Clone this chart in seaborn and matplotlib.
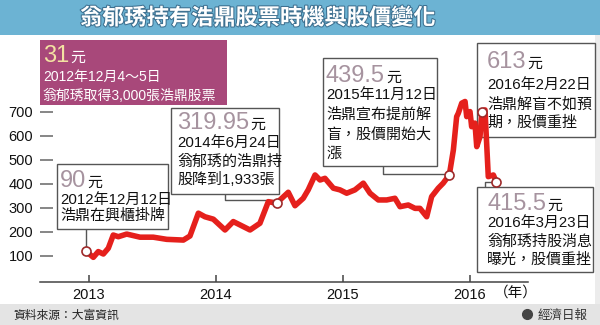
import numpy as np
import pandas as pd
import matplotlib
matplotlib.use("Agg")
import matplotlib.pyplot as plt
import seaborn as sns
from matplotlib.patches import Rectangle
from matplotlib.lines import Line2D
import matplotlib.patheffects as pe

sns.set_theme(style="white")
plt.rcParams['font.family'] = ['Liberation Sans', 'Noto Sans CJK TC', 'DejaVu Sans']

# ---------------- data ----------------
years = [2012.974, 2013.034, 2013.073, 2013.113, 2013.152, 2013.191, 2013.231, 2013.297,
         2013.402, 2013.506, 2013.612, 2013.743, 2013.795, 2013.861, 2013.913, 2013.979,
         2014.071, 2014.136, 2014.189, 2014.268, 2014.346, 2014.412, 2014.478, 2014.504,
         2014.569, 2014.622, 2014.687, 2014.726, 2014.780, 2014.819, 2014.858, 2014.924,
         2014.976, 2015.029, 2015.094, 2015.160, 2015.213, 2015.278, 2015.344, 2015.409,
         2015.449, 2015.514, 2015.567, 2015.606, 2015.659, 2015.698, 2015.750, 2015.789,
         2015.837, 2015.869, 2015.895, 2015.908, 2015.935, 2015.961, 2015.974, 2016.000,
         2016.013, 2016.039, 2016.053, 2016.079, 2016.093, 2016.118, 2016.144, 2016.184,
         2016.206]
price = [120, 93, 117, 107, 131, 186, 179, 190,
         177, 177, 168, 165, 182, 277, 262, 252,
         207, 242, 228, 207, 235, 325, 318, 332,
         364, 308, 339, 374, 436, 415, 422, 381,
         374, 360, 374, 402, 360, 332, 332, 339,
         304, 311, 297, 297, 262, 346, 381, 402,
         436, 540, 679, 693, 735, 742, 679, 700,
         637, 652, 554, 596, 700, 707, 429, 436,
         408]
event_years = [2012.974, 2014.478, 2015.837, 2016.093, 2016.206]
event_price = [120, 318, 436, 700, 408]

year_ticks = [2013, 2014, 2015, 2016]
y_ticks = [100, 200, 300, 400, 500, 600, 700]

title = "翁郁琇持有浩鼎股票時機與股價變化"
source = "資料來源：大富資訊"
brand = "經濟日報"
unit_x = "（年）"

df = pd.DataFrame({"year": years, "price": price})

# ---------------- figure ----------------
W, H = 600, 325
fig = plt.figure(figsize=(6, 3.25), dpi=100)
fig.patch.set_facecolor("white")

def fx(x):
    return x / W

def fy(y):
    return 1 - y / H

# title bar
fig.add_artist(Rectangle((0, fy(35)), 1, 35 / H, transform=fig.transFigure,
                         facecolor="#6cb3d3", edgecolor="none", zorder=0))
fig.text(fx(258), fy(18), title, color="white", fontsize=16, fontweight="bold",
         ha="center", va="center", family=['Noto Sans CJK TC'],
         path_effects=[pe.withStroke(linewidth=1.5, foreground="#3d7090")])

# bottom bar
fig.add_artist(Rectangle((0, 0), 1, 21 / H, transform=fig.transFigure,
                         facecolor="#e4e4e4", edgecolor="none", zorder=0))
fig.text(fx(13), fy(315), source, fontsize=8.5, color="#222222", ha="left", va="center",
         family=['Noto Sans CJK TC'])
fig.text(fx(588), fy(315), brand, fontsize=9, color="#333333", ha="right", va="center",
         family=['Noto Sans CJK TC'])
fig.add_artist(Line2D([fx(527)], [fy(314)], marker="o", markersize=7, color="#444444",
                      transform=fig.transFigure))
# right edge strip
fig.add_artist(Rectangle((fx(595), 21 / H), 5 / W, (H - 21 - 35) / H, transform=fig.transFigure,
                         facecolor="#ececec", edgecolor="none", zorder=0))

# axes (drawn above the annotation boxes)
ax = fig.add_axes([fx(40), 1 - 282 / H, 488 / W, (282 - 40) / H])
ax.set_facecolor("none")
ax.set_zorder(3)
sns.lineplot(data=df, x="year", y="price", ax=ax, color="#e5201c", linewidth=4.0,
             zorder=5, solid_joinstyle="round")
ax.plot(event_years, event_price, linestyle="none", marker="o", markersize=6.5,
        markerfacecolor="white", markeredgecolor="#9e2a2a", markeredgewidth=1.2, zorder=6)

x0 = 2013 - 49 / 127
x1 = 2016 + 58 / 127
ax.set_xlim(x0, x1)
ax.set_ylim(-9.6, 998)
ax.set_xticks(year_ticks)
ax.set_xticklabels([str(t) for t in year_ticks])
ax.set_yticks(y_ticks)
ax.set_yticklabels([str(t) for t in y_ticks])
ax.set_xlabel("")
ax.set_ylabel("")
for s in ["left", "top", "right"]:
    ax.spines[s].set_visible(False)
ax.spines["bottom"].set_color("#444444")
ax.spines["bottom"].set_linewidth(1.1)
ax.tick_params(axis="y", direction="in", length=9.5, width=1.1, color="#666666",
               pad=5, labelsize=10.5, labelcolor="#111111", left=True)
ax.tick_params(axis="x", direction="in", length=5, width=1.1, color="#444444",
               pad=4, labelsize=10.5, labelcolor="#111111", bottom=True)
fig.text(fx(516), fy(293), unit_x, fontsize=10.5, ha="center", va="center", color="#111111",
         family=['Noto Sans CJK TC'])

# helpers
def data_px(x, y):
    fig.canvas.draw()
    dx, dy = ax.transData.transform((x, y))
    return dx, H - dy

def box(x0_, y0_, x1_, y1_, face="white", edge="#555555", z=2):
    fig.add_artist(Rectangle((fx(x0_), fy(y1_)), (x1_ - x0_) / W, (y1_ - y0_) / H,
                             transform=fig.transFigure, facecolor=face, edgecolor=edge,
                             linewidth=1.0, zorder=z))

def conn(points):
    xs = [fx(p[0]) for p in points]
    ys = [fy(p[1]) for p in points]
    fig.add_artist(Line2D(xs, ys, color="#555555", linewidth=1.0, transform=fig.transFigure,
                          zorder=1))

BIG = "#a6939f"
TXT = "#111111"

def big_num(x, y, num, unit, color=BIG, ucolor=TXT):
    t = fig.text(fx(x), fy(y), num, fontsize=17, color=color, ha="left", va="baseline",
                 family=['Liberation Sans'], zorder=2.5)
    fig.canvas.draw()
    bb = t.get_window_extent()
    fig.text(bb.x1 / W + 1 / W, fy(y), unit, fontsize=10.8, color=ucolor, ha="left",
             va="baseline", family=['Noto Sans CJK TC'], zorder=2.5)

def lines(x, ys, texts, color=TXT, size=10.8):
    for yy, tt in zip(ys, texts):
        fig.text(fx(x), fy(yy), tt, fontsize=size, color=color, ha="left", va="center",
                 zorder=2.5)

# box 1 (magenta)
box(40, 40, 227, 105, face="#a8487a", edge="none", z=2)
big_num(43, 62, "31", "元", color="#f3e2a2", ucolor="white")
lines(43, [77, 96], ["2012年12月4～5日", "翁郁琇取得3,000張浩鼎股票"], color="white", size=10.0)

# box 2
ex, ey = data_px(event_years[0], event_price[0])
conn([(ex, ey), (ex, 229)])
box(57, 164, 168, 229)
big_num(60, 187, "90", "元")
lines(60, [200, 215], ["2012年12月12日", "浩鼎在興櫃掛牌"])

# box 3
ex, ey = data_px(event_years[1], event_price[1])
conn([(225, 194), (225, 200), (ex, 200), (ex, ey)])
box(170.7, 108, 279, 194)
big_num(177, 129, "319.95", "元")
lines(177, [143, 162, 180], ["2014年6月24日", "翁郁琇的浩鼎持", "股降到1,933張"])

# box 4
ex, ey = data_px(event_years[2], event_price[2])
conn([(383, 166), (383, 174), (ex, 174), (ex, ey)])
box(322.7, 57.7, 437, 166)
big_num(326, 82, "439.5", "元")
lines(326, [95, 115, 135, 154], ["2015年11月12日", "浩鼎宣布提前解", "盲，股價開始大", "漲"])

# box 5
box(476.7, 43.3, 595, 136.7)
big_num(487, 68, "613", "元")
lines(487, [85, 104, 123], ["2016年2月22日", "浩鼎解盲不如預", "期，股價重挫"])

# box 6
ex, ey = data_px(event_years[4], event_price[4])
conn([(ex, ey), (485, ey), (485, 186.7)])
box(476.7, 186.7, 593, 271.7)
big_num(487, 210, "415.5", "元")
lines(487, [223, 242, 260], ["2016年3月23日", "翁郁琇持股消息", "曝光，股價重挫"])

fig.savefig("out.png", dpi=100, facecolor="white")
